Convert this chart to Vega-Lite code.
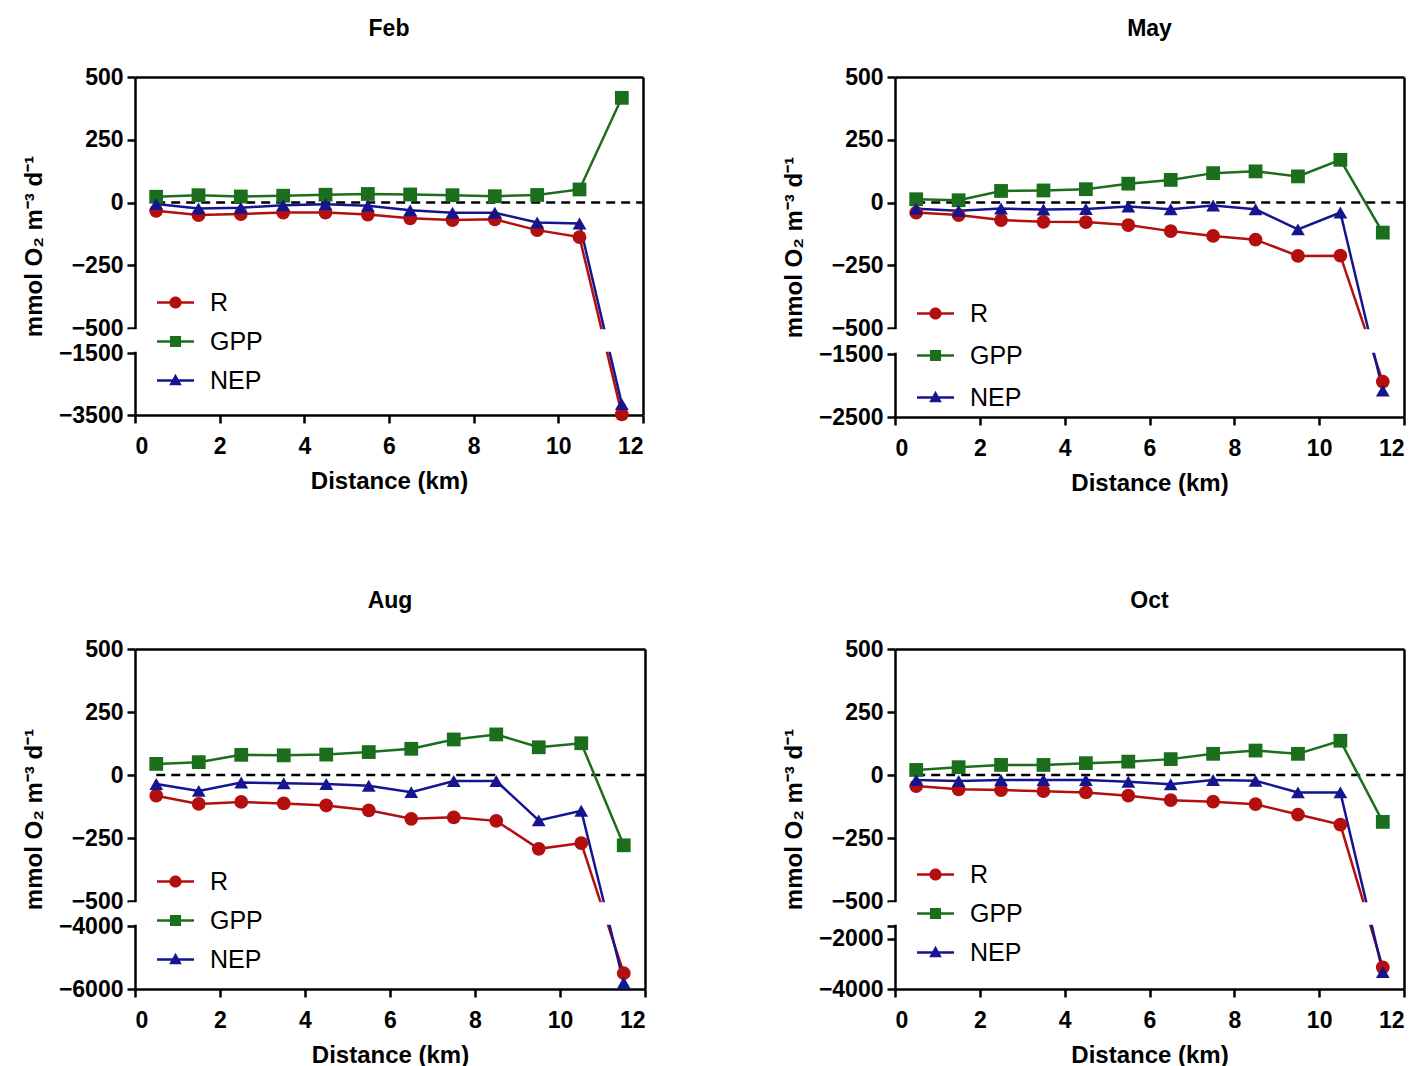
{
  "$schema": "https://vega.github.io/schema/vega-lite/v6.json",
  "background": "white",
  "padding": {"left": 22, "top": 18, "right": 5, "bottom": 5},
  "config": {
    "font": "Liberation Sans",
    "view": {"stroke": null},
    "axis": {"domainColor": "black", "domainWidth": 2.5, "tickColor": "black", "tickWidth": 2.5, "tickSize": 8, "labelFont": "Liberation Sans", "labelFontWeight": "bold", "labelFontSize": 23, "labelColor": "black", "titleFont": "Liberation Sans", "titleFontWeight": "bold", "titleFontSize": 24, "titleColor": "black", "grid": false, "zindex": 0},
    "axisX": {"labelPadding": 12, "titlePadding": 11},
    "axisY": {"labelPadding": 4, "titlePadding": 12},
    "title": {"font": "Liberation Sans", "fontSize": 23, "fontWeight": "bold", "color": "black", "offset": 25},
    "legend": {"labelFont": "Liberation Sans", "labelFontSize": 25, "labelColor": "black", "padding": 0}
  },
  "datasets": {
    "feb": [
      {"x":0.5,"series":"R","value":-33},{"x":1.5,"series":"R","value":-50},{"x":2.5,"series":"R","value":-46},{"x":3.5,"series":"R","value":-40},{"x":4.5,"series":"R","value":-40},{"x":5.5,"series":"R","value":-48},{"x":6.5,"series":"R","value":-63},{"x":7.5,"series":"R","value":-70},{"x":8.5,"series":"R","value":-67},{"x":9.5,"series":"R","value":-110},{"x":10.5,"series":"R","value":-138},{"x":11.5,"series":"R","value":-3480},
      {"x":0.5,"series":"GPP","value":23},{"x":1.5,"series":"GPP","value":29},{"x":2.5,"series":"GPP","value":24},{"x":3.5,"series":"GPP","value":27},{"x":4.5,"series":"GPP","value":31},{"x":5.5,"series":"GPP","value":34},{"x":6.5,"series":"GPP","value":32},{"x":7.5,"series":"GPP","value":29},{"x":8.5,"series":"GPP","value":25},{"x":9.5,"series":"GPP","value":30},{"x":10.5,"series":"GPP","value":52},{"x":11.5,"series":"GPP","value":417},
      {"x":0.5,"series":"NEP","value":-6},{"x":1.5,"series":"NEP","value":-24},{"x":2.5,"series":"NEP","value":-21},{"x":3.5,"series":"NEP","value":-11},{"x":4.5,"series":"NEP","value":-7},{"x":5.5,"series":"NEP","value":-13},{"x":6.5,"series":"NEP","value":-31},{"x":7.5,"series":"NEP","value":-41},{"x":8.5,"series":"NEP","value":-41},{"x":9.5,"series":"NEP","value":-80},{"x":10.5,"series":"NEP","value":-84},{"x":11.5,"series":"NEP","value":-3150}
    ],
    "may": [
      {"x":0.5,"series":"R","value":-40},{"x":1.5,"series":"R","value":-50},{"x":2.5,"series":"R","value":-70},{"x":3.5,"series":"R","value":-77},{"x":4.5,"series":"R","value":-78},{"x":5.5,"series":"R","value":-90},{"x":6.5,"series":"R","value":-114},{"x":7.5,"series":"R","value":-133},{"x":8.5,"series":"R","value":-148},{"x":9.5,"series":"R","value":-213},{"x":10.5,"series":"R","value":-212},{"x":11.5,"series":"R","value":-1937},
      {"x":0.5,"series":"GPP","value":13},{"x":1.5,"series":"GPP","value":9},{"x":2.5,"series":"GPP","value":46},{"x":3.5,"series":"GPP","value":48},{"x":4.5,"series":"GPP","value":53},{"x":5.5,"series":"GPP","value":75},{"x":6.5,"series":"GPP","value":90},{"x":7.5,"series":"GPP","value":117},{"x":8.5,"series":"GPP","value":124},{"x":9.5,"series":"GPP","value":104},{"x":10.5,"series":"GPP","value":170},{"x":11.5,"series":"GPP","value":-120},
      {"x":0.5,"series":"NEP","value":-25},{"x":1.5,"series":"NEP","value":-33},{"x":2.5,"series":"NEP","value":-24},{"x":3.5,"series":"NEP","value":-28},{"x":4.5,"series":"NEP","value":-26},{"x":5.5,"series":"NEP","value":-16},{"x":6.5,"series":"NEP","value":-27},{"x":7.5,"series":"NEP","value":-12},{"x":8.5,"series":"NEP","value":-27},{"x":9.5,"series":"NEP","value":-107},{"x":10.5,"series":"NEP","value":-40},{"x":11.5,"series":"NEP","value":-2080}
    ],
    "aug": [
      {"x":0.5,"series":"R","value":-82},{"x":1.5,"series":"R","value":-115},{"x":2.5,"series":"R","value":-107},{"x":3.5,"series":"R","value":-113},{"x":4.5,"series":"R","value":-121},{"x":5.5,"series":"R","value":-140},{"x":6.5,"series":"R","value":-174},{"x":7.5,"series":"R","value":-168},{"x":8.5,"series":"R","value":-182},{"x":9.5,"series":"R","value":-293},{"x":10.5,"series":"R","value":-270},{"x":11.5,"series":"R","value":-5500},
      {"x":0.5,"series":"GPP","value":44},{"x":1.5,"series":"GPP","value":51},{"x":2.5,"series":"GPP","value":80},{"x":3.5,"series":"GPP","value":78},{"x":4.5,"series":"GPP","value":81},{"x":5.5,"series":"GPP","value":91},{"x":6.5,"series":"GPP","value":104},{"x":7.5,"series":"GPP","value":141},{"x":8.5,"series":"GPP","value":161},{"x":9.5,"series":"GPP","value":110},{"x":10.5,"series":"GPP","value":126},{"x":11.5,"series":"GPP","value":-279},
      {"x":0.5,"series":"NEP","value":-36},{"x":1.5,"series":"NEP","value":-63},{"x":2.5,"series":"NEP","value":-30},{"x":3.5,"series":"NEP","value":-33},{"x":4.5,"series":"NEP","value":-36},{"x":5.5,"series":"NEP","value":-43},{"x":6.5,"series":"NEP","value":-68},{"x":7.5,"series":"NEP","value":-24},{"x":8.5,"series":"NEP","value":-24},{"x":9.5,"series":"NEP","value":-180},{"x":10.5,"series":"NEP","value":-142},{"x":11.5,"series":"NEP","value":-5800}
    ],
    "oct": [
      {"x":0.5,"series":"R","value":-44},{"x":1.5,"series":"R","value":-57},{"x":2.5,"series":"R","value":-60},{"x":3.5,"series":"R","value":-64},{"x":4.5,"series":"R","value":-69},{"x":5.5,"series":"R","value":-82},{"x":6.5,"series":"R","value":-100},{"x":7.5,"series":"R","value":-106},{"x":8.5,"series":"R","value":-116},{"x":9.5,"series":"R","value":-157},{"x":10.5,"series":"R","value":-197},{"x":11.5,"series":"R","value":-3146},
      {"x":0.5,"series":"GPP","value":20},{"x":1.5,"series":"GPP","value":31},{"x":2.5,"series":"GPP","value":40},{"x":3.5,"series":"GPP","value":40},{"x":4.5,"series":"GPP","value":47},{"x":5.5,"series":"GPP","value":53},{"x":6.5,"series":"GPP","value":63},{"x":7.5,"series":"GPP","value":84},{"x":8.5,"series":"GPP","value":97},{"x":9.5,"series":"GPP","value":84},{"x":10.5,"series":"GPP","value":136},{"x":11.5,"series":"GPP","value":-186},
      {"x":0.5,"series":"NEP","value":-20},{"x":1.5,"series":"NEP","value":-24},{"x":2.5,"series":"NEP","value":-20},{"x":3.5,"series":"NEP","value":-20},{"x":4.5,"series":"NEP","value":-20},{"x":5.5,"series":"NEP","value":-27},{"x":6.5,"series":"NEP","value":-37},{"x":7.5,"series":"NEP","value":-20},{"x":8.5,"series":"NEP","value":-23},{"x":9.5,"series":"NEP","value":-69},{"x":10.5,"series":"NEP","value":-69},{"x":11.5,"series":"NEP","value":-3330}
    ]
  },
  "bounds": "flush",
  "columns": 2,
  "spacing": {"row": 232, "column": 250},
  "concat": [
    {
      "width": 508, "height": 338,
      "title": {"text": "Feb"},
      "data": {"name": "feb"},
      "resolve": {"axis": {"x": "independent", "y": "independent"}},
      "layer": [
        {"data": {"values": [{}]}, "mark": {"type": "rule", "color": "black", "strokeWidth": 2.5, "strokeDash": [9, 6]},
         "encoding": {
           "x": {"datum": 0.5, "type": "quantitative", "scale": {"domain": [0, 12], "nice": false, "zero": false}, "axis": {"orient": "top", "labels": false, "ticks": false, "title": null}},
           "x2": {"datum": 12},
           "y": {"datum": 0, "type": "quantitative", "scale": {"domain": [-3500, -1500, -500, 500], "range": [338, 276, 251, 0], "nice": false, "zero": false}, "axis": {"orient": "right", "labels": false, "ticks": false, "title": null}}}},
        {"mark": {"type": "line", "strokeWidth": 2.5},
         "encoding": {
           "x": {"field": "x", "type": "quantitative", "scale": {"domain": [0, 12], "nice": false, "zero": false}, "axis": {"values": [0, 2, 4, 6, 8, 10, 12], "title": "Distance (km)", "format": "d"}},
           "y": {"field": "value", "type": "quantitative", "scale": {"domain": [-3500, -1500, -500, 500], "range": [338, 276, 251, 0], "nice": false, "zero": false}, "axis": {"values": [-3500, -1500, -500, -250, 0, 250, 500], "title": "mmol O₂ m⁻³ d⁻¹", "format": "d"}},
           "stroke": {"field": "series", "type": "nominal", "scale": {"range": ["#1b6e1b", "#15158f", "#b30f0f"]}, "legend": null}}},
        {"data": {"values": [{}]}, "mark": {"type": "rect", "fill": "white", "strokeWidth": 0},
         "encoding": {
           "x": {"datum": -0.15, "type": "quantitative", "scale": {"domain": [0, 12], "nice": false, "zero": false}, "axis": null},
           "x2": {"datum": 11.85},
           "y": {"datum": -1450, "type": "quantitative", "scale": {"domain": [-3500, -1500, -500, 500], "range": [338, 276, 251, 0], "nice": false, "zero": false}, "axis": null},
           "y2": {"datum": -550}}},
        {"mark": {"type": "point", "filled": true, "size": 190, "opacity": 1},
         "encoding": {
           "x": {"field": "x", "type": "quantitative", "scale": {"domain": [0, 12], "nice": false, "zero": false}, "axis": null},
           "y": {"field": "value", "type": "quantitative", "scale": {"domain": [-3500, -1500, -500, 500], "range": [338, 276, 251, 0], "nice": false, "zero": false}, "axis": null},
           "fill": {"field": "series", "type": "nominal", "scale": {"domain": ["R", "GPP", "NEP"], "range": ["#b30f0f", "#1b6e1b", "#15158f"]},
             "legend": {"orient": "none", "legendX": 22, "legendY": 207, "title": null, "symbolSize": 1369, "symbolStrokeWidth": 0, "labelOffset": 16, "rowPadding": 7,
               "symbolType": {"expr": "datum.value === 'R' ? 'M-1,-0.07L1,-0.07L1,0.07L-1,0.07Z M0.33,0A0.33,0.33 0 1,1 -0.33,0A0.33,0.33 0 1,1 0.33,0Z' : datum.value === 'GPP' ? 'M-1,-0.07L1,-0.07L1,0.07L-1,0.07Z M-0.3,-0.3L0.3,-0.3L0.3,0.3L-0.3,0.3Z' : 'M-1,-0.07L1,-0.07L1,0.07L-1,0.07Z M0,-0.36L0.34,0.26L-0.34,0.26Z'"}}},
           "shape": {"field": "series", "type": "nominal", "scale": {"range": ["square", "triangle-up", "circle"]}, "legend": null}}}
      ]
    },
    {
      "width": 509, "height": 340,
      "title": {"text": "May"},
      "data": {"name": "may"},
      "resolve": {"axis": {"x": "independent", "y": "independent"}},
      "layer": [
        {"data": {"values": [{}]}, "mark": {"type": "rule", "color": "black", "strokeWidth": 2.5, "strokeDash": [9, 6]},
         "encoding": {
           "x": {"datum": 0.5, "type": "quantitative", "scale": {"domain": [0, 12], "nice": false, "zero": false}, "axis": {"orient": "top", "labels": false, "ticks": false, "title": null}},
           "x2": {"datum": 12},
           "y": {"datum": 0, "type": "quantitative", "scale": {"domain": [-2500, -1500, -500, 500], "range": [340, 277, 251, 0], "nice": false, "zero": false}, "axis": {"orient": "right", "labels": false, "ticks": false, "title": null}}}},
        {"mark": {"type": "line", "strokeWidth": 2.5},
         "encoding": {
           "x": {"field": "x", "type": "quantitative", "scale": {"domain": [0, 12], "nice": false, "zero": false}, "axis": {"values": [0, 2, 4, 6, 8, 10, 12], "title": "Distance (km)", "format": "d"}},
           "y": {"field": "value", "type": "quantitative", "scale": {"domain": [-2500, -1500, -500, 500], "range": [340, 277, 251, 0], "nice": false, "zero": false}, "axis": {"values": [-2500, -1500, -500, -250, 0, 250, 500], "title": "mmol O₂ m⁻³ d⁻¹", "format": "d"}},
           "stroke": {"field": "series", "type": "nominal", "scale": {"range": ["#1b6e1b", "#15158f", "#b30f0f"]}, "legend": null}}},
        {"data": {"values": [{}]}, "mark": {"type": "rect", "fill": "white", "strokeWidth": 0},
         "encoding": {
           "x": {"datum": -0.15, "type": "quantitative", "scale": {"domain": [0, 12], "nice": false, "zero": false}, "axis": null},
           "x2": {"datum": 11.85},
           "y": {"datum": -1450, "type": "quantitative", "scale": {"domain": [-2500, -1500, -500, 500], "range": [340, 277, 251, 0], "nice": false, "zero": false}, "axis": null},
           "y2": {"datum": -550}}},
        {"mark": {"type": "point", "filled": true, "size": 190, "opacity": 1},
         "encoding": {
           "x": {"field": "x", "type": "quantitative", "scale": {"domain": [0, 12], "nice": false, "zero": false}, "axis": null},
           "y": {"field": "value", "type": "quantitative", "scale": {"domain": [-2500, -1500, -500, 500], "range": [340, 277, 251, 0], "nice": false, "zero": false}, "axis": null},
           "fill": {"field": "series", "type": "nominal", "scale": {"domain": ["R", "GPP", "NEP"], "range": ["#b30f0f", "#1b6e1b", "#15158f"]},
             "legend": {"orient": "none", "legendX": 22, "legendY": 218, "title": null, "symbolSize": 1369, "symbolStrokeWidth": 0, "labelOffset": 16, "rowPadding": 10,
               "symbolType": {"expr": "datum.value === 'R' ? 'M-1,-0.07L1,-0.07L1,0.07L-1,0.07Z M0.33,0A0.33,0.33 0 1,1 -0.33,0A0.33,0.33 0 1,1 0.33,0Z' : datum.value === 'GPP' ? 'M-1,-0.07L1,-0.07L1,0.07L-1,0.07Z M-0.3,-0.3L0.3,-0.3L0.3,0.3L-0.3,0.3Z' : 'M-1,-0.07L1,-0.07L1,0.07L-1,0.07Z M0,-0.36L0.34,0.26L-0.34,0.26Z'"}}},
           "shape": {"field": "series", "type": "nominal", "scale": {"range": ["square", "triangle-up", "circle"]}, "legend": null}}}
      ]
    },
    {
      "width": 510, "height": 340,
      "title": {"text": "Aug"},
      "data": {"name": "aug"},
      "resolve": {"axis": {"x": "independent", "y": "independent"}},
      "layer": [
        {"data": {"values": [{}]}, "mark": {"type": "rule", "color": "black", "strokeWidth": 2.5, "strokeDash": [9, 6]},
         "encoding": {
           "x": {"datum": 0.5, "type": "quantitative", "scale": {"domain": [0, 12], "nice": false, "zero": false}, "axis": {"orient": "top", "labels": false, "ticks": false, "title": null}},
           "x2": {"datum": 12},
           "y": {"datum": 0, "type": "quantitative", "scale": {"domain": [-6000, -4000, -500, 500], "range": [340, 277, 252, 0], "nice": false, "zero": false}, "axis": {"orient": "right", "labels": false, "ticks": false, "title": null}}}},
        {"mark": {"type": "line", "strokeWidth": 2.5},
         "encoding": {
           "x": {"field": "x", "type": "quantitative", "scale": {"domain": [0, 12], "nice": false, "zero": false}, "axis": {"values": [0, 2, 4, 6, 8, 10, 12], "title": "Distance (km)", "format": "d"}},
           "y": {"field": "value", "type": "quantitative", "scale": {"domain": [-6000, -4000, -500, 500], "range": [340, 277, 252, 0], "nice": false, "zero": false}, "axis": {"values": [-6000, -4000, -500, -250, 0, 250, 500], "title": "mmol O₂ m⁻³ d⁻¹", "format": "d"}},
           "stroke": {"field": "series", "type": "nominal", "scale": {"range": ["#1b6e1b", "#15158f", "#b30f0f"]}, "legend": null}}},
        {"data": {"values": [{}]}, "mark": {"type": "rect", "fill": "white", "strokeWidth": 0},
         "encoding": {
           "x": {"datum": -0.15, "type": "quantitative", "scale": {"domain": [0, 12], "nice": false, "zero": false}, "axis": null},
           "x2": {"datum": 11.85},
           "y": {"datum": -3820, "type": "quantitative", "scale": {"domain": [-6000, -4000, -500, 500], "range": [340, 277, 252, 0], "nice": false, "zero": false}, "axis": null},
           "y2": {"datum": -680}}},
        {"mark": {"type": "point", "filled": true, "size": 190, "opacity": 1},
         "encoding": {
           "x": {"field": "x", "type": "quantitative", "scale": {"domain": [0, 12], "nice": false, "zero": false}, "axis": null},
           "y": {"field": "value", "type": "quantitative", "scale": {"domain": [-6000, -4000, -500, 500], "range": [340, 277, 252, 0], "nice": false, "zero": false}, "axis": null},
           "fill": {"field": "series", "type": "nominal", "scale": {"domain": ["R", "GPP", "NEP"], "range": ["#b30f0f", "#1b6e1b", "#15158f"]},
             "legend": {"orient": "none", "legendX": 22, "legendY": 214, "title": null, "symbolSize": 1369, "symbolStrokeWidth": 0, "labelOffset": 16, "rowPadding": 7,
               "symbolType": {"expr": "datum.value === 'R' ? 'M-1,-0.07L1,-0.07L1,0.07L-1,0.07Z M0.33,0A0.33,0.33 0 1,1 -0.33,0A0.33,0.33 0 1,1 0.33,0Z' : datum.value === 'GPP' ? 'M-1,-0.07L1,-0.07L1,0.07L-1,0.07Z M-0.3,-0.3L0.3,-0.3L0.3,0.3L-0.3,0.3Z' : 'M-1,-0.07L1,-0.07L1,0.07L-1,0.07Z M0,-0.36L0.34,0.26L-0.34,0.26Z'"}}},
           "shape": {"field": "series", "type": "nominal", "scale": {"range": ["square", "triangle-up", "circle"]}, "legend": null}}}
      ]
    },
    {
      "width": 509, "height": 340,
      "title": {"text": "Oct"},
      "data": {"name": "oct"},
      "resolve": {"axis": {"x": "independent", "y": "independent"}},
      "layer": [
        {"data": {"values": [{}]}, "mark": {"type": "rule", "color": "black", "strokeWidth": 2.5, "strokeDash": [9, 6]},
         "encoding": {
           "x": {"datum": 0.5, "type": "quantitative", "scale": {"domain": [0, 12], "nice": false, "zero": false}, "axis": {"orient": "top", "labels": false, "ticks": false, "title": null}},
           "x2": {"datum": 12},
           "y": {"datum": 0, "type": "quantitative", "scale": {"domain": [-4000, -1500, -500, 500], "range": [340, 277, 252, 0], "nice": false, "zero": false}, "axis": {"orient": "right", "labels": false, "ticks": false, "title": null}}}},
        {"mark": {"type": "line", "strokeWidth": 2.5},
         "encoding": {
           "x": {"field": "x", "type": "quantitative", "scale": {"domain": [0, 12], "nice": false, "zero": false}, "axis": {"values": [0, 2, 4, 6, 8, 10, 12], "title": "Distance (km)", "format": "d"}},
           "y": {"field": "value", "type": "quantitative", "scale": {"domain": [-4000, -1500, -500, 500], "range": [340, 277, 252, 0], "nice": false, "zero": false}, "axis": {"values": [-4000, -2000, -1500, -500, -250, 0, 250, 500], "title": "mmol O₂ m⁻³ d⁻¹", "format": "d", "labelExpr": "datum.value == -1500 ? '' : datum.label"}},
           "stroke": {"field": "series", "type": "nominal", "scale": {"range": ["#1b6e1b", "#15158f", "#b30f0f"]}, "legend": null}}},
        {"data": {"values": [{}]}, "mark": {"type": "rect", "fill": "white", "strokeWidth": 0},
         "encoding": {
           "x": {"datum": -0.15, "type": "quantitative", "scale": {"domain": [0, 12], "nice": false, "zero": false}, "axis": null},
           "x2": {"datum": 11.85},
           "y": {"datum": -1450, "type": "quantitative", "scale": {"domain": [-4000, -1500, -500, 500], "range": [340, 277, 252, 0], "nice": false, "zero": false}, "axis": null},
           "y2": {"datum": -550}}},
        {"mark": {"type": "point", "filled": true, "size": 190, "opacity": 1},
         "encoding": {
           "x": {"field": "x", "type": "quantitative", "scale": {"domain": [0, 12], "nice": false, "zero": false}, "axis": null},
           "y": {"field": "value", "type": "quantitative", "scale": {"domain": [-4000, -1500, -500, 500], "range": [340, 277, 252, 0], "nice": false, "zero": false}, "axis": null},
           "fill": {"field": "series", "type": "nominal", "scale": {"domain": ["R", "GPP", "NEP"], "range": ["#b30f0f", "#1b6e1b", "#15158f"]},
             "legend": {"orient": "none", "legendX": 22, "legendY": 207, "title": null, "symbolSize": 1369, "symbolStrokeWidth": 0, "labelOffset": 16, "rowPadding": 7,
               "symbolType": {"expr": "datum.value === 'R' ? 'M-1,-0.07L1,-0.07L1,0.07L-1,0.07Z M0.33,0A0.33,0.33 0 1,1 -0.33,0A0.33,0.33 0 1,1 0.33,0Z' : datum.value === 'GPP' ? 'M-1,-0.07L1,-0.07L1,0.07L-1,0.07Z M-0.3,-0.3L0.3,-0.3L0.3,0.3L-0.3,0.3Z' : 'M-1,-0.07L1,-0.07L1,0.07L-1,0.07Z M0,-0.36L0.34,0.26L-0.34,0.26Z'"}}},
           "shape": {"field": "series", "type": "nominal", "scale": {"range": ["square", "triangle-up", "circle"]}, "legend": null}}}
      ]
    }
  ],
  "resolve": {"scale": {"fill": "independent", "shape": "independent", "stroke": "independent"}}
}
